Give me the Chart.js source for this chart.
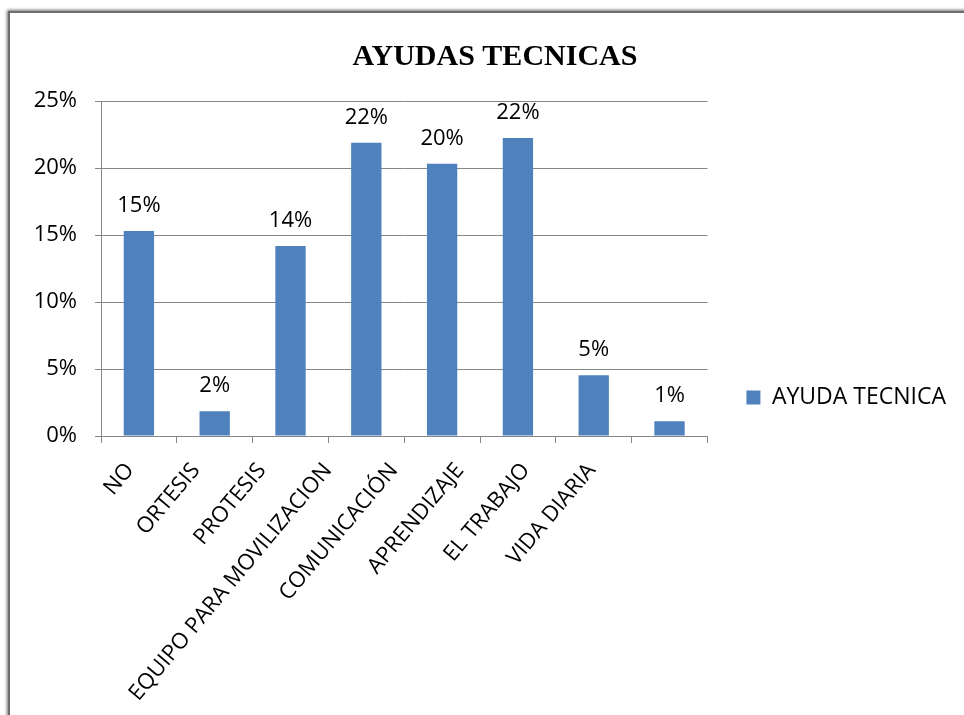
<!DOCTYPE html>
<html>
<head>
<meta charset="utf-8">
<script src="https://cdn.jsdelivr.net/npm/chart.js@4/dist/chart.umd.min.js"></script>
<style>
  html, body { margin: 0; padding: 0; background: #fff; overflow: hidden; }
  #frame {
    position: absolute; left: 8px; top: 11px; width: 1000px; height: 800px;
    border: 2px solid #6e6e6e; background: #fff;
    box-shadow: -1px -1px 3px rgba(0,0,0,0.55);
  }
  #wrap { position: absolute; left: 0; top: 0; width: 964px; height: 715px; }
</style>
</head>
<body>
<div id="frame"></div>
<div id="wrap"><canvas id="c" width="964" height="715"></canvas></div>
<script>
const titleText = "AYUDAS TECNICAS";
const seriesName = "AYUDA TECNICA";
const categories = ["NO", "ORTESIS", "PROTESIS", "EQUIPO PARA MOVILIZACION", "COMUNICACIÓN", "APRENDIZAJE", "EL TRABAJO", "VIDA DIARIA"];
const values = [15.3, 1.85, 14.18, 21.88, 20.31, 22.23, 4.54, 1.10];
const yTicks = [0, 5, 10, 15, 20, 25];
const labelSlots = [0, 1, 2, 3, 4, 5, 6, 7];

const FONT = "'Open Sans', sans-serif";
const barColor = "#4F81BD";
const gridColor = "#868686";

const dataLabels = {
  id: 'dataLabels',
  afterLayout(chart) {
    const lg = chart.legend;
    if (lg) { lg.top += 40; lg.bottom += 40; }
  },
  afterDatasetsDraw(chart) {
    const ctx = chart.ctx;
    const meta = chart.getDatasetMeta(0);
    ctx.save();
    ctx.font = "22px " + FONT;
    ctx.fillStyle = "#000";
    ctx.textAlign = "center";
    ctx.textBaseline = "alphabetic";
    meta.data.forEach((bar, i) => {
      ctx.fillText(Math.round(values[i]) + "%", bar.x, bar.y - 19);
    });
    ctx.restore();
  }
};

new Chart(document.getElementById('c'), {
  type: 'bar',
  data: {
    labels: categories,
    datasets: [{
      label: seriesName,
      data: values,
      backgroundColor: barColor,
      borderWidth: 0,
      categoryPercentage: 0.4,
      barPercentage: 1.0,
      xAxisID: 'x',
      yAxisID: 'y'
    }]
  },
  options: {
    responsive: false,
    animation: false,
    layout: { padding: { left: 34, right: 8, top: 0, bottom: 0 } },
    plugins: {
      title: {
        display: true,
        text: titleText,
        color: "#000",
        font: { family: "'Liberation Serif', 'Times New Roman', serif", size: 30, weight: 'bold' },
        padding: { top: 39, bottom: 26 }
      },
      legend: {
        position: 'right',
        fullSize: true,
        maxWidth: 400,
        labels: {
          color: "#000",
          font: { family: FONT, size: 23 },
          boxWidth: 14,
          boxHeight: 14,
          padding: 39
        }
      },
      tooltip: { enabled: false }
    },
    scales: {
      x: {
        grid: { display: true, drawOnChartArea: false, drawTicks: true, tickLength: 7, color: gridColor, offset: true },
        border: { color: gridColor, width: 1 },
        ticks: { display: false },
        afterFit(scale) { scale.height = 7; }
      },
      xl: {
        type: 'linear',
        position: 'bottom',
        offset: false,
        bounds: 'data',
        min: -0.44,
        max: 8.756,
        afterBuildTicks(scale) { scale.ticks = labelSlots.map(v => ({ value: v })); },
        grid: { display: false, drawTicks: false, offset: false },
        border: { display: false },
        ticks: {
          color: "#000",
          font: { family: FONT, size: 22 },
          minRotation: 50, maxRotation: 50,
          padding: 15,
          autoSkip: false,
          callback: v => categories[v]
        },
        afterFit(scale) { scale.height = 272; }
      },
      y: {
        min: 0, max: 25,
        afterBuildTicks(scale) { scale.ticks = yTicks.map(v => ({ value: v })); },
        grid: { color: gridColor, tickLength: 6, lineWidth: 1 },
        border: { color: gridColor, width: 1 },
        ticks: {
          color: "#000",
          font: { family: FONT, size: 22 },
          padding: 18,
          callback: v => v + "%"
        },
        afterFit(scale) { scale.width = 67; }
      }
    }
  },
  plugins: [dataLabels]
});
</script>
</body>
</html>
